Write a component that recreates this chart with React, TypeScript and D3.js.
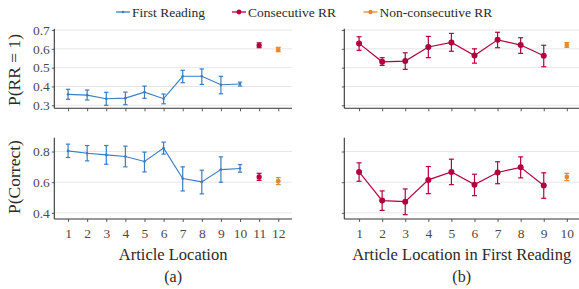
import { useEffect, useRef } from 'react'
import * as d3 from 'd3'

// panel (a): by article location
const locA = [1, 2, 3, 4, 5, 6, 7, 8, 9, 10]
const rrFirst = [0.358, 0.354, 0.335, 0.338, 0.37, 0.335, 0.454, 0.454, 0.409, 0.413]
const rrFirstLo = [0.332, 0.328, 0.3, 0.303, 0.337, 0.308, 0.42, 0.411, 0.361, 0.402]
const rrFirstHi = [0.385, 0.381, 0.369, 0.37, 0.402, 0.36, 0.486, 0.493, 0.454, 0.423]
const corFirst = [0.804, 0.789, 0.778, 0.767, 0.735, 0.822, 0.624, 0.602, 0.682, 0.689]
const corFirstLo = [0.761, 0.739, 0.717, 0.7, 0.667, 0.783, 0.543, 0.524, 0.6, 0.665]
const corFirstHi = [0.848, 0.839, 0.839, 0.835, 0.796, 0.861, 0.7, 0.678, 0.765, 0.715]
// consecutive / non-consecutive at locations 11, 12: [mean, lo, hi]
const rrConsecA = [0.619, 0.606, 0.632]
const rrNonConsecA = [0.595, 0.585, 0.608]
const corConsecA = [0.634, 0.612, 0.658]
const corNonConsecA = [0.606, 0.584, 0.63]

// panel (b): by location in first reading
const locB = [1, 2, 3, 4, 5, 6, 7, 8, 9]
const rrConsec = [0.629, 0.531, 0.535, 0.61, 0.634, 0.565, 0.648, 0.62, 0.563]
const rrConsecLo = [0.592, 0.512, 0.491, 0.553, 0.587, 0.524, 0.606, 0.576, 0.505]
const rrConsecHi = [0.664, 0.553, 0.579, 0.666, 0.682, 0.6, 0.688, 0.659, 0.619]
const corConsec = [0.667, 0.48, 0.473, 0.615, 0.667, 0.584, 0.663, 0.697, 0.578]
const corConsecLo = [0.606, 0.416, 0.388, 0.525, 0.584, 0.512, 0.59, 0.628, 0.495]
const corConsecHi = [0.726, 0.543, 0.556, 0.702, 0.75, 0.652, 0.733, 0.765, 0.661]
const rrNonConsecB = [0.62, 0.608, 0.633]
const corNonConsecB = [0.634, 0.61, 0.658]

const ticksA = d3.range(1, 13)
const ticksB = d3.range(1, 11)
const rrTicks = [0.3, 0.4, 0.5, 0.6, 0.7]
const corTicks = [0.4, 0.6, 0.8]

const BLUE = '#3a7dc2'
const RED = '#b3003c'
const ORANGE = '#e08b30'
const FONT = '"Liberation Serif", "DejaVu Serif", serif'

export default function App() {
  const svgRef = useRef<SVGSVGElement>(null)

  useEffect(() => {
    if (!svgRef.current) return
    const svg = d3.select(svgRef.current)
    svg.selectAll('*').remove()

    const xA = d3.scaleLinear().domain([0.28, 12.72]).range([54.3, 292])
    const xB = d3.scaleLinear().domain([0.36, 10.64]).range([344.3, 581.6])
    const yTop = d3.scaleLinear().domain([0.284, 0.707]).range([108.3, 28.7])
    const yBot = d3.scaleLinear().domain([0.36, 0.89]).range([219, 137.7])

    const panel = (
      x: d3.ScaleLinear<number, number>,
      y: d3.ScaleLinear<number, number>,
      xt: number[],
      yt: number[],
      showX: boolean,
      showY: boolean
    ) => {
      const g = svg.append('g')
      const [x0, x1] = x.range()
      const [y0, y1] = y.range()
      // grid
      g.selectAll('line.grid')
        .data(yt)
        .enter()
        .append('line')
        .attr('x1', x0)
        .attr('x2', x1)
        .attr('y1', d => y(d))
        .attr('y2', d => y(d))
        .attr('stroke', '#e6e6e6')
        .attr('stroke-width', 1)

      const ya = g
        .append('g')
        .attr('transform', `translate(${x0},0)`)
        .call(
          d3
            .axisLeft(y)
            .tickValues(yt)
            .tickSize(2.5)
            .tickPadding(2)
            .tickFormat(showY ? d3.format('.1f') : () => '')
        )
      ya.select('.domain').remove()
      ya.append('line')
        .attr('y1', y0)
        .attr('y2', y1)
        .attr('stroke', '#333')
        .attr('stroke-width', 1.1)

      const xa = g
        .append('g')
        .attr('transform', `translate(0,${y0})`)
        .call(
          d3
            .axisBottom(x)
            .tickValues(xt)
            .tickSize(3)
            .tickPadding(6)
            .tickFormat(showX ? d3.format('d') : () => '')
        )
      xa.select('.domain').remove()
      xa.append('line')
        .attr('x1', x0)
        .attr('x2', x1)
        .attr('stroke', '#333')
        .attr('stroke-width', 1.1)

      g.selectAll('.tick line').attr('stroke', '#333').attr('stroke-width', 0.8)
      g.selectAll('.tick text')
        .attr('font-family', FONT)
        .attr('font-size', 13.5)
        .attr('fill', '#4a4a4a')
    }

    panel(xA, yTop, ticksA, rrTicks, false, true)
    panel(xA, yBot, ticksA, corTicks, true, true)
    panel(xB, yTop, ticksB, rrTicks, false, false)
    panel(xB, yBot, ticksB, corTicks, true, false)

    const series = (
      x: d3.ScaleLinear<number, number>,
      y: d3.ScaleLinear<number, number>,
      xs: number[],
      m: number[],
      lo: number[],
      hi: number[],
      color: string,
      r: number,
      cap: number,
      lw: number
    ) => {
      const g = svg.append('g')
      const pts = xs.map((d, i) => ({ x: d, m: m[i], lo: lo[i], hi: hi[i] }))
      if (pts.length > 1) {
        const line = d3
          .line<{ x: number; m: number }>()
          .x(d => x(d.x))
          .y(d => y(d.m))
        g.append('path')
          .attr('d', line(pts))
          .attr('fill', 'none')
          .attr('stroke', color)
          .attr('stroke-width', lw)
      }
      const eb = g.selectAll('g.eb').data(pts).enter().append('g')
      eb.append('line')
        .attr('x1', d => x(d.x))
        .attr('x2', d => x(d.x))
        .attr('y1', d => y(d.lo))
        .attr('y2', d => y(d.hi))
        .attr('stroke', color)
        .attr('stroke-width', 1.2)
      ;['lo', 'hi'].forEach(k => {
        eb.append('line')
          .attr('x1', d => x(d.x) - cap)
          .attr('x2', d => x(d.x) + cap)
          .attr('y1', d => y((d as any)[k]))
          .attr('y2', d => y((d as any)[k]))
          .attr('stroke', color)
          .attr('stroke-width', 1.2)
      })
      eb.append('circle')
        .attr('cx', d => x(d.x))
        .attr('cy', d => y(d.m))
        .attr('r', r)
        .attr('fill', color)
    }

    // panel (a)
    series(xA, yTop, locA, rrFirst, rrFirstLo, rrFirstHi, BLUE, 1.3, 2.2, 1.1)
    series(xA, yTop, [11], [rrConsecA[0]], [rrConsecA[1]], [rrConsecA[2]], RED, 2.6, 2.5, 1.2)
    series(xA, yTop, [12], [rrNonConsecA[0]], [rrNonConsecA[1]], [rrNonConsecA[2]], ORANGE, 2.4, 2.5, 1.2)
    series(xA, yBot, locA, corFirst, corFirstLo, corFirstHi, BLUE, 1.3, 2.2, 1.1)
    series(xA, yBot, [11], [corConsecA[0]], [corConsecA[1]], [corConsecA[2]], RED, 2.6, 2.5, 1.2)
    series(xA, yBot, [12], [corNonConsecA[0]], [corNonConsecA[1]], [corNonConsecA[2]], ORANGE, 2.4, 2.5, 1.2)
    // panel (b)
    series(xB, yTop, locB, rrConsec, rrConsecLo, rrConsecHi, RED, 3, 2.5, 1.2)
    series(xB, yTop, [10], [rrNonConsecB[0]], [rrNonConsecB[1]], [rrNonConsecB[2]], ORANGE, 2.4, 2.5, 1.2)
    series(xB, yBot, locB, corConsec, corConsecLo, corConsecHi, RED, 3, 2.5, 1.2)
    series(xB, yBot, [10], [corNonConsecB[0]], [corNonConsecB[1]], [corNonConsecB[2]], ORANGE, 2.4, 2.5, 1.2)

    // axis titles
    const title = (t: string, x: number, y: number, rot = 0, size = 16.5) =>
      svg
        .append('text')
        .attr('transform', `translate(${x},${y}) rotate(${rot})`)
        .attr('text-anchor', 'middle')
        .attr('font-family', FONT)
        .attr('font-size', size)
        .attr('fill', '#2a2a2a')
        .text(t)

    title('P(RR = 1)', 19.5, 70, -90, 17.5)
    title('P(Correct)', 19.5, 177, -90, 17.5)
    title('Article Location', (54.3 + 292) / 2, 260)
    title('Article Location in First Reading', (344.3 + 579) / 2, 260)
    title('(a)', (54.3 + 292) / 2, 281.5, 0, 16)
    title('(b)', (344.3 + 579) / 2, 281.5, 0, 16)

    // legend
    const legend = [
      { label: 'First Reading', color: BLUE, x: 116, r: 1.3 },
      { label: 'Consecutive RR', color: RED, x: 232, r: 2.4 },
      { label: 'Non-consecutive RR', color: ORANGE, x: 363.5, r: 2.2 },
    ]
    const lg = svg.append('g').selectAll('g').data(legend).enter().append('g')
    lg.append('line')
      .attr('x1', d => d.x)
      .attr('x2', d => d.x + 14)
      .attr('y1', 12)
      .attr('y2', 12)
      .attr('stroke', d => d.color)
      .attr('stroke-width', 1.3)
    lg.append('circle')
      .attr('cx', d => d.x + 7)
      .attr('cy', 12)
      .attr('r', d => d.r)
      .attr('fill', d => d.color)
    lg.append('text')
      .attr('x', d => d.x + 16)
      .attr('y', 16.5)
      .attr('font-family', FONT)
      .attr('font-size', 13.5)
      .attr('fill', '#2a2a2a')
      .text(d => d.label)
  }, [])

  return (
    <svg
      ref={svgRef}
      width={579}
      height={289}
      style={{ position: 'absolute', left: 0, top: 0, background: '#fff' }}
    ></svg>
  )
}
